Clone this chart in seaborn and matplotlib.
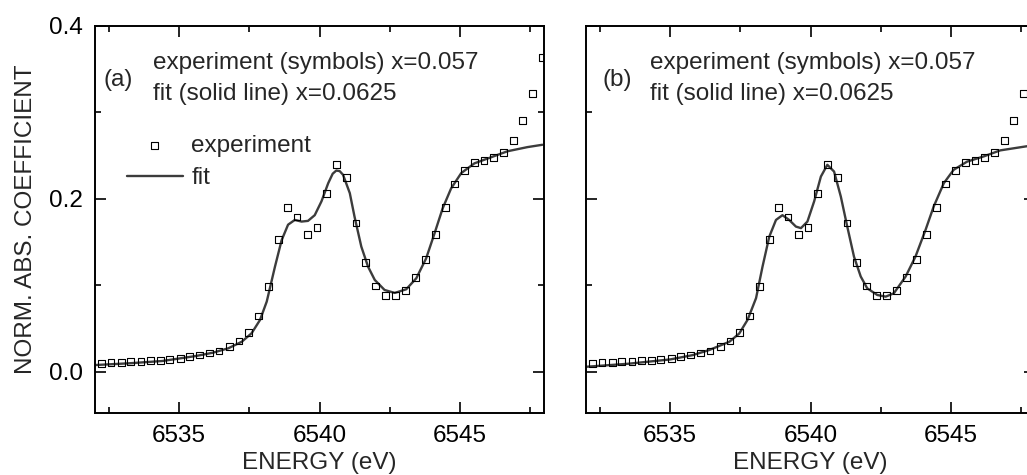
import numpy as np
import pandas as pd
import matplotlib.pyplot as plt
import seaborn as sns
from matplotlib.ticker import MultipleLocator

sns.set_theme(style="ticks")
plt.rcParams['font.family'] = ['Liberation Sans', 'DejaVu Sans']
plt.rcParams['font.size'] = 17.5

# experiment (symbols), same in both panels
exp_energy = [6532.23, 6532.57, 6532.94, 6533.27, 6533.64, 6533.98, 6534.34, 6534.66,
              6535.04, 6535.38, 6535.72, 6536.07, 6536.42, 6536.78, 6537.13, 6537.48,
              6537.83, 6538.17, 6538.53, 6538.86, 6539.20, 6539.56, 6539.91, 6540.25,
              6540.60, 6540.95, 6541.30, 6541.65, 6542.00, 6542.35, 6542.71, 6543.07,
              6543.42, 6543.77, 6544.12, 6544.48, 6544.82, 6545.16, 6545.52, 6545.86,
              6546.20, 6546.56, 6546.90, 6547.24, 6547.59, 6547.95]
exp_mu = [0.0095, 0.0106, 0.0106, 0.0118, 0.0118, 0.0125, 0.0129, 0.0137,
          0.0152, 0.0172, 0.0191, 0.0214, 0.0237, 0.0288, 0.0353, 0.0454,
          0.0643, 0.098, 0.153, 0.190, 0.179, 0.159, 0.167, 0.206,
          0.240, 0.225, 0.172, 0.126, 0.099, 0.088, 0.088, 0.094,
          0.109, 0.130, 0.159, 0.190, 0.217, 0.233, 0.242, 0.244,
          0.248, 0.254, 0.267, 0.291, 0.322, 0.364]

# fit (solid line), panel (a)
fit_a_energy = [6532.0, 6533.2, 6534.4, 6535.6, 6536.2, 6536.75, 6537.23, 6537.58,
                6537.88, 6538.12, 6538.41, 6538.65, 6538.88, 6539.12, 6539.36, 6539.59,
                6539.83, 6540.07, 6540.31, 6540.47, 6540.60, 6540.72, 6540.84, 6541.08,
                6541.25, 6541.49, 6541.73, 6541.97, 6542.32, 6542.68, 6543.09, 6543.45,
                6543.80, 6544.10, 6544.39, 6544.69, 6545.05, 6545.52, 6546.11, 6546.70,
                6547.41, 6547.94]
fit_a_mu = [0.0075, 0.0095, 0.0122, 0.018, 0.0218, 0.0269, 0.0345, 0.0443,
            0.0597, 0.081, 0.121, 0.152, 0.170, 0.1755, 0.1736, 0.1744,
            0.181, 0.197, 0.218, 0.229, 0.2327, 0.232, 0.2277, 0.2065,
            0.179, 0.1446, 0.1214, 0.106, 0.0944, 0.0910, 0.0952, 0.108,
            0.131, 0.160, 0.189, 0.212, 0.2297, 0.241, 0.248, 0.255,
            0.2598, 0.2625]

# fit (solid line), panel (b)
fit_b_energy = [6532.0, 6533.5, 6535.0, 6535.8, 6536.4, 6537.11, 6537.46, 6537.76,
                6538.06, 6538.29, 6538.53, 6538.77, 6539.00, 6539.24, 6539.48, 6539.66,
                6539.89, 6540.13, 6540.37, 6540.60, 6540.84, 6541.08, 6541.31, 6541.55,
                6541.79, 6542.02, 6542.38, 6542.68, 6542.97, 6543.39, 6543.74, 6544.10,
                6544.39, 6544.75, 6545.10, 6545.58, 6546.17, 6546.76, 6547.65, 6548.2]
fit_b_mu = [0.0055, 0.009, 0.014, 0.019, 0.025, 0.0345, 0.044, 0.060,
            0.085, 0.1214, 0.156, 0.1755, 0.181, 0.1755, 0.1678, 0.166,
            0.1736, 0.197, 0.2257, 0.2393, 0.2315, 0.2026, 0.1678, 0.133,
            0.110, 0.0964, 0.0886, 0.0867, 0.0906, 0.110, 0.133, 0.164,
            0.191, 0.218, 0.2335, 0.243, 0.249, 0.256, 0.2605, 0.263]

panels = [("(a)", fit_a_energy, fit_a_mu), ("(b)", fit_b_energy, fit_b_mu)]

fig = plt.figure(figsize=(10.27, 4.75), dpi=100)
ax_a = fig.add_axes([95 / 1027, 62 / 475, 449 / 1027, 387 / 475])
ax_b = fig.add_axes([586 / 1027, 62 / 475, 449 / 1027, 387 / 475])

fs = 17.5
line_col = '#3c3c3c'
for ax, (tag, fe, fm) in zip([ax_a, ax_b], panels):
    sns.lineplot(x=fe, y=fm, ax=ax, color=line_col, lw=1.7, label='fit', sort=False)
    sns.scatterplot(x=exp_energy, y=exp_mu, ax=ax, marker='s', s=24,
                    facecolor='none', edgecolor='black', linewidth=0.8,
                    label='experiment', zorder=3)
    ax.set_xlim(6532, 6548)
    ax.set_ylim(-0.048, 0.4)
    ax.xaxis.set_major_locator(MultipleLocator(5))
    ax.xaxis.set_minor_locator(MultipleLocator(2.5))
    ax.yaxis.set_major_locator(MultipleLocator(0.2))
    ax.yaxis.set_minor_locator(MultipleLocator(0.1))
    ax.tick_params(which='both', direction='in', top=True, right=True,
                   width=1.2, colors='black', labelsize=fs)
    ax.tick_params(which='major', length=8, pad=9)
    ax.tick_params(which='minor', length=4.5)
    for sp in ax.spines.values():
        sp.set_linewidth(1.4)
        sp.set_color('black')
    ax.set_xlabel('ENERGY (eV)', fontsize=fs, labelpad=3)
    ax.text(0.018 if tag == "(a)" else 0.037, 0.86, tag, transform=ax.transAxes,
            fontsize=fs, va='center', ha='left')
    tx = 0.1285 if tag == "(a)" else 0.1425
    ax.text(tx, 0.904, 'experiment (symbols) x=0.057', transform=ax.transAxes,
            fontsize=fs, va='center', ha='left')
    ax.text(tx, 0.824, 'fit (solid line) x=0.0625', transform=ax.transAxes,
            fontsize=fs, va='center', ha='left')
    ax.get_legend().remove()

ax_a.yaxis.set_major_formatter(plt.FormatStrFormatter('%.1f'))
ax_b.set_yticklabels([])
ax_a.set_ylabel('NORM. ABS. COEFFICIENT', fontsize=fs, labelpad=8)

handles, labels = ax_a.get_legend_handles_labels()
order = [labels.index('experiment'), labels.index('fit')]
ax_a.legend([handles[i] for i in order], [labels[i] for i in order],
            loc='upper left', bbox_to_anchor=(0.071, 0.718), frameon=False,
            borderpad=0, borderaxespad=0, handlelength=2.3, handletextpad=0.35,
            labelspacing=0.42, fontsize=fs)

fig.savefig('out.png', dpi=100)
